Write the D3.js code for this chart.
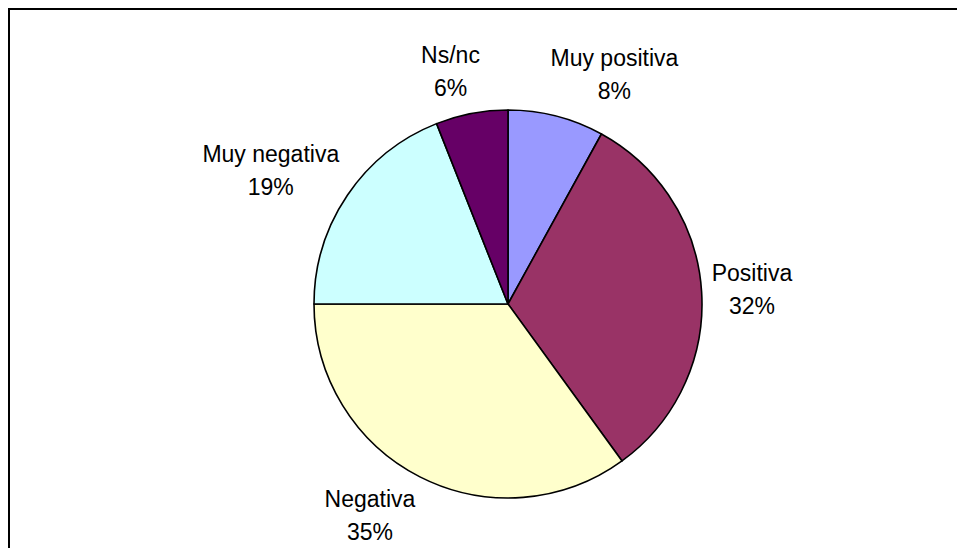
<!DOCTYPE html>
<html>
<head>
<meta charset="utf-8">
<script src="https://cdn.jsdelivr.net/npm/d3@7"></script>
<style>
  html, body { margin: 0; padding: 0; background: #fff; }
  svg { display: block; }
</style>
</head>
<body>
<svg id="chart" width="957" height="548"></svg>
<script>
const categories = ["Muy positiva", "Positiva", "Negativa", "Muy negativa", "Ns/nc"];
const values = [8, 32, 35, 19, 6];
const colors = ["#9999FF", "#993366", "#FFFFCC", "#CCFFFF", "#660066"];

const W = 957, H = 548;
const svg = d3.select("#chart");

// outer chart frame (extends past the right/bottom edges)
svg.append("rect")
  .attr("x", 9).attr("y", 9)
  .attr("width", W + 20).attr("height", H + 20)
  .attr("fill", "#fff")
  .attr("stroke", "#000").attr("stroke-width", 2);

const cx = 508, cy = 304, r = 194;
const g = svg.append("g").attr("transform", `translate(${cx},${cy})`);

const data = categories.map((c, i) => ({ name: c, value: values[i], color: colors[i] }));
const pie = d3.pie().value(d => d.value).sort(null);
const arc = d3.arc().innerRadius(0).outerRadius(r);
const arcs = pie(data);

g.selectAll("path.slice")
  .data(arcs)
  .enter().append("path")
  .attr("class", "slice")
  .attr("d", arc)
  .attr("fill", d => d.data.color)
  .attr("stroke", "#000")
  .attr("stroke-width", 1.6)
  .attr("stroke-linejoin", "round");

// labels
const total = d3.sum(values);
const fontSize = 23, lineH = 33, gap = 10;
const lab = g.append("g")
  .attr("font-family", "Liberation Sans, Arial, sans-serif")
  .attr("font-size", fontSize)
  .attr("fill", "#000");

arcs.forEach(a => {
  const mid = (a.startAngle + a.endAngle) / 2;
  const s = Math.sin(mid), c = Math.cos(mid);
  const px = (r + gap) * s, py = -(r + gap) * c;
  const pct = Math.round(a.data.value / total * 100) + "%";
  const t = lab.append("text").attr("text-anchor", "middle");
  t.append("tspan").attr("x", 0).attr("y", 0).text(a.data.name);
  t.append("tspan").attr("x", 0).attr("y", lineH).text(pct);
  const w = t.node().getBBox().width, h = lineH * 2;
  const hx = Math.max(-1, Math.min(1, s * 3.5));
  const lx = px + hx * w / 2;
  const ly = py - c * h / 2;
  t.selectAll("tspan")
    .attr("x", lx)
    .attr("y", (d, i) => ly - lineH / 2 + i * lineH)
    .attr("dy", "0.35em");
});
</script>
</body>
</html>
